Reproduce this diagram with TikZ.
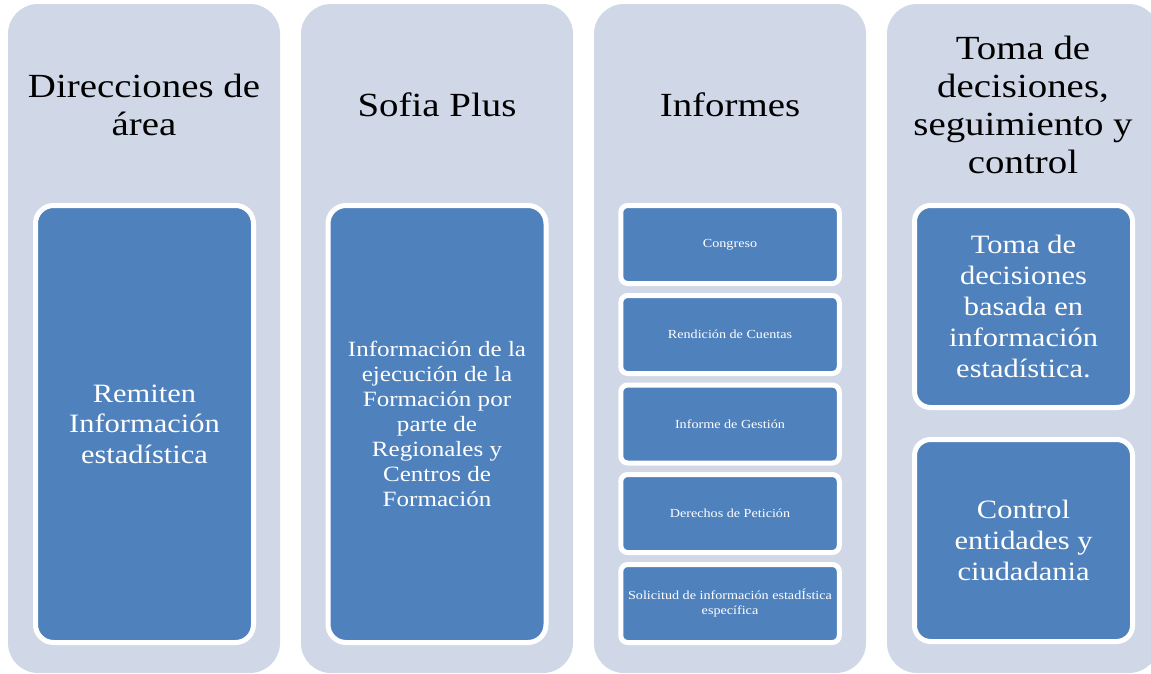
\documentclass[tikz,border=0pt]{standalone}
\usepackage{fontspec}
\setmainfont{Liberation Serif}[FakeStretch=1.15]
\definecolor{colbg}{RGB}{208,216,232}
\definecolor{boxblue}{RGB}{79,129,189}
\begin{document}
\begin{tikzpicture}[x=1pt,y=-1pt,
  colbox/.style={rectangle, fill=colbg, rounded corners=30pt, minimum width=272pt, minimum height=669pt, inner sep=0pt},
  title/.style={align=center, text=black, font=\fontsize{33.8}{38}\selectfont, inner sep=0pt},
  bluebox/.style={rectangle, draw=white, line width=5pt, fill=boxblue, text=white, align=center, inner sep=0pt},
  bigbox/.style={bluebox, rounded corners=18pt, minimum width=218pt, minimum height=437pt},
  smallbox/.style={bluebox, rounded corners=7pt, minimum width=218.5pt, minimum height=78pt, font=\fontsize{12.3}{15}\selectfont},
  sidebox/.style={bluebox, rounded corners=16pt, minimum width=218pt, minimum height=202pt, font=\fontsize{26.5}{31}\selectfont}
]
\useasboundingbox (0,0) rectangle (1151,673);
\clip (0,0) rectangle (1151,673);
\fill[white] (0,0) rectangle (1151,673);
% columns
\node[colbox] (c1) at (144,338.5) {};
\node[colbox] (c2) at (437,338.5) {};
\node[colbox] (c3) at (730,338.5) {};
\node[colbox] (c4) at (1023,338.5) {};
% titles
\node[title] (t1) at (144,105) {Direcciones de\\área};
\node[title] (t2) at (437,105) {Sofia Plus};
\node[title] (t3) at (730,105) {Informes};
\node[title] (t4) at (1023,105) {Toma de\\decisiones,\\seguimiento y\\control};
% column 1
\node[bigbox, font=\fontsize{26.5}{30.5}\selectfont] (b1) at (144.5,424) {Remiten\\Información\\estadística};
% column 2
\node[bigbox, font=\fontsize{21.8}{25}\selectfont] (b2) at (437,424) {Información de la\\ejecución de la\\Formación por\\parte de\\Regionales y\\Centros de\\Formación};
% column 3
\node[smallbox] (s1) at (730,244.5) {Congreso};
\node[smallbox] (s2) at (730,334.5) {Rendición de Cuentas};
\node[smallbox] (s3) at (730,424) {Informe de Gestión};
\node[smallbox] (s4) at (730,513.5) {Derechos de Petición};
\node[smallbox] (s5) at (730,603.5) {Solicitud de información estadÍstica\\específica};
% column 4
\node[sidebox] (d1) at (1023.5,306.5) {Toma de\\decisiones\\basada en\\información\\estadística.};
\node[sidebox] (d2) at (1023.5,540.5) {Control\\entidades y\\ciudadania};
\end{tikzpicture}
\end{document}
